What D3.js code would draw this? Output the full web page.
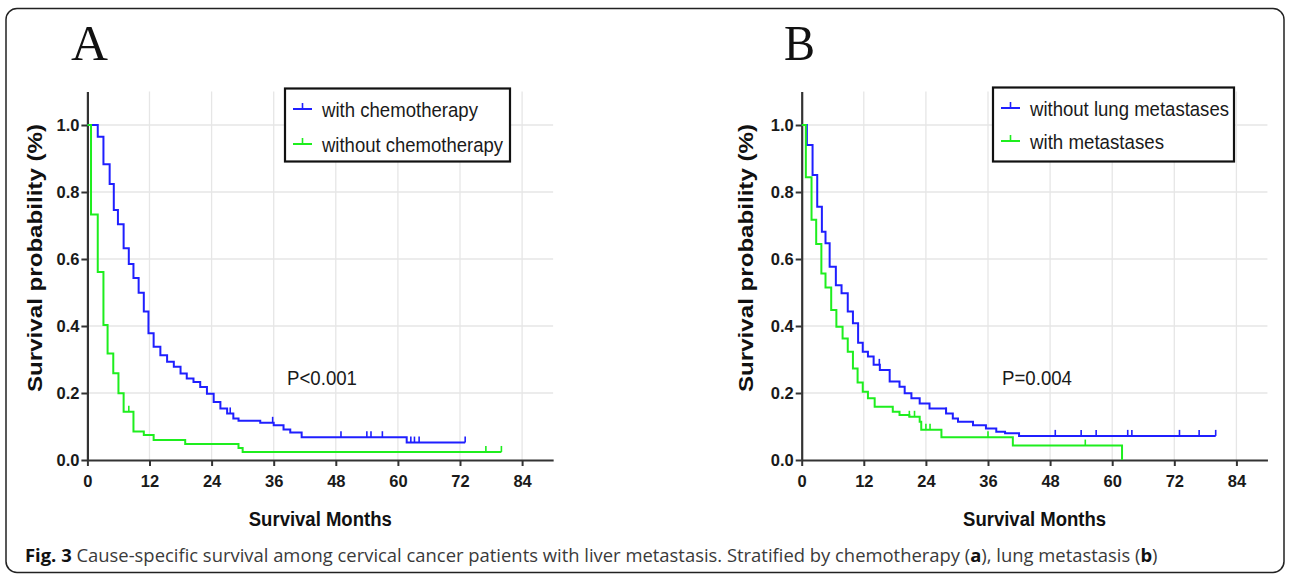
<!DOCTYPE html>
<html>
<head>
<meta charset="utf-8">
<script src="https://cdn.jsdelivr.net/npm/d3@7"></script>
<style>
    body { margin: 0; background: #fff; }
    text { font-family: "Liberation Sans", Arial, sans-serif; }
</style>
</head>
<body>
<div class="canvas"></div>
<script>
// axis ticks
const monthTicks = [0, 12, 24, 36, 48, 60, 72, 84];
const survTicks = [0, 0.2, 0.4, 0.6, 0.8, 1.0];

// panel A - chemotherapy
const aChemoTime = [0, 2.0, 3.1, 4.3, 5.1, 5.9, 7.0, 8.0, 8.9, 9.9, 10.9, 11.8, 12.8, 14.1, 15.4, 16.7, 18.0, 19.2, 20.5, 21.8, 23.1, 24.4, 25.7, 27.0, 28.2, 29.2, 33.4, 36.0, 37.9, 39.2, 41.4, 61.7];
const aChemoSurv = [1.0, 0.965, 0.883, 0.824, 0.746, 0.704, 0.632, 0.585, 0.543, 0.499, 0.443, 0.378, 0.338, 0.313, 0.293, 0.278, 0.258, 0.243, 0.233, 0.218, 0.198, 0.173, 0.154, 0.139, 0.124, 0.117, 0.111, 0.104, 0.091, 0.082, 0.068, 0.052];
const aChemoEnd = 73;
const aChemoCensor = [27.6, 35.8, 49, 54, 54.8, 57, 62.5, 63.2, 64.1, 73];

const aNoChemoTime = [0, 0.7, 2.0, 3.1, 3.9, 5.0, 6.0, 7.0, 8.9, 10.9, 12.8, 18.9, 29.2, 30.0];
const aNoChemoSurv = [1.0, 0.733, 0.561, 0.403, 0.318, 0.259, 0.199, 0.144, 0.085, 0.075, 0.060, 0.048, 0.036, 0.024];
const aNoChemoEnd = 80;
const aNoChemoCensor = [8.0, 77, 80];

// panel B - lung metastases
const bNoLungTime = [0, 1.0, 2.1, 3.0, 3.9, 4.6, 5.4, 6.6, 7.7, 8.9, 9.9, 10.9, 11.8, 12.8, 13.9, 15.1, 17.0, 18.9, 19.9, 21.2, 22.8, 24.7, 27.9, 29.2, 30.2, 33.1, 35.6, 37.6, 39.3, 42.0];
const bNoLungSurv = [1.0, 0.94, 0.851, 0.756, 0.681, 0.647, 0.577, 0.522, 0.498, 0.443, 0.408, 0.350, 0.323, 0.309, 0.284, 0.269, 0.234, 0.219, 0.199, 0.184, 0.169, 0.154, 0.139, 0.124, 0.114, 0.104, 0.094, 0.084, 0.080, 0.072];
const bNoLungEnd = 80;
const bNoLungCensor = [15.0, 27.9, 49, 54, 56.9, 63, 63.8, 73, 76.8, 80];

const bLungTime = [0, 0.8, 1.9, 2.8, 3.8, 4.6, 5.7, 6.7, 7.9, 8.9, 9.9, 10.8, 11.8, 12.8, 14.1, 17.6, 18.9, 20.8, 22.8, 23.1, 27.0, 40.8, 61.9];
const bLungSurv = [1.0, 0.844, 0.717, 0.645, 0.557, 0.515, 0.448, 0.398, 0.363, 0.323, 0.273, 0.231, 0.204, 0.184, 0.159, 0.144, 0.134, 0.129, 0.114, 0.090, 0.068, 0.043, 0.0];
const bLungEnd = 61.9;
const bLungCensor = [20.8, 21.8, 24.0, 24.8, 36.0, 54.8];

const aLegend = ['with chemotherapy', 'without chemotherapy'];
const bLegend = ['without lung metastases', 'with metastases'];

const blue = '#1f1fff';
const green = '#1eee1e';

const svg = d3.select('.canvas')
    .append('svg')
        .attr('width', 1290)
        .attr('height', 576);

// outer frame
svg.append('rect')
    .attr('x', 6).attr('y', 8.5)
    .attr('width', 1278).attr('height', 564)
    .attr('rx', 11)
    .attr('fill', 'none')
    .attr('stroke', '#222')
    .attr('stroke-width', 1.5);

const fit = (sel, w) => sel.attr('textLength', w).attr('lengthAdjust', 'spacingAndGlyphs');

const makeSeries = (times, survs, end, color) => {
    const pts = times.map((t, i) => [t, survs[i]]);
    if (end > times[times.length - 1]) pts.push([end, survs[survs.length - 1]]);
    const survAt = t => {
        let s = survs[0];
        times.forEach((tt, i) => { if (tt <= t) s = survs[i]; });
        return s;
    };
    return {pts, survAt, color};
};

const drawPanel = (p) => {
    const x = d3.scaleLinear().domain([0, 90]).range([p.x0, p.x0 + 90 * 5.175]);
    const y = d3.scaleLinear().domain([0, 1.1]).range([460, 91.5]);
    const g = svg.append('g');

    // grid
    g.selectAll('.vgrid')
        .data(monthTicks.slice(1))
        .enter().append('line')
            .attr('x1', d => x(d)).attr('x2', d => x(d))
            .attr('y1', y(1.1)).attr('y2', y(0))
            .attr('stroke', '#e6e6e6').attr('stroke-width', 1.3);
    g.selectAll('.hgrid')
        .data(survTicks.slice(1))
        .enter().append('line')
            .attr('x1', x(0)).attr('x2', x(90))
            .attr('y1', d => y(d)).attr('y2', d => y(d))
            .attr('stroke', '#e6e6e6').attr('stroke-width', 1.3);

    // axes
    const xAxis = d3.axisBottom(x).tickValues(monthTicks).tickSize(6).tickSizeOuter(0).tickPadding(9);
    const yAxis = d3.axisLeft(y).tickValues(survTicks).tickSize(6).tickSizeOuter(0).tickPadding(2)
        .tickFormat(d3.format('.1f'));

    const gx = g.append('g').attr('transform', 'translate(0,460)').call(xAxis);
    const gy = g.append('g').attr('transform', `translate(${p.x0},0)`).call(yAxis);
    [gx, gy].forEach(a => {
        a.select('.domain').attr('stroke', '#333').attr('stroke-width', 2.2);
        a.selectAll('.tick line').attr('stroke', '#333').attr('stroke-width', 2);
        a.selectAll('.tick text')
            .attr('fill', '#1a1a1a')
            .style('font-size', '16.5px')
            .style('font-weight', 'bold')
            .style('font-family', '"Liberation Sans", Arial, sans-serif');
    });

    // curves
    const line = d3.line()
        .x(d => x(d[0]))
        .y(d => y(d[1]))
        .curve(d3.curveStepAfter);

    p.series.forEach(s => {
        g.append('path')
            .attr('d', line(s.pts))
            .attr('fill', 'none')
            .attr('stroke', s.color)
            .attr('stroke-width', 2);
        g.selectAll(null)
            .data(s.censor)
            .enter().append('line')
                .attr('x1', d => x(d)).attr('x2', d => x(d))
                .attr('y1', d => y(s.survAt(d)))
                .attr('y2', d => y(s.survAt(d)) - 6)
                .attr('stroke', s.color)
                .attr('stroke-width', 1.6);
    });

    // legend
    const lg = g.append('g');
    lg.append('rect')
        .attr('x', p.leg.x).attr('y', p.leg.y)
        .attr('width', p.leg.w).attr('height', p.leg.h)
        .attr('fill', '#fff')
        .attr('stroke', '#111')
        .attr('stroke-width', 2.2);
    p.legend.forEach((name, i) => {
        const ly = p.leg.rows[i];
        const col = p.series[i].color;
        lg.append('line')
            .attr('x1', p.leg.x + 8).attr('x2', p.leg.x + 27)
            .attr('y1', ly).attr('y2', ly)
            .attr('stroke', col).attr('stroke-width', 2);
        lg.append('line')
            .attr('x1', p.leg.x + 17.5).attr('x2', p.leg.x + 17.5)
            .attr('y1', ly).attr('y2', ly - 6)
            .attr('stroke', col).attr('stroke-width', 1.6);
        lg.append('text')
            .attr('x', p.leg.x + 37)
            .attr('y', ly + 8)
            .attr('fill', '#1a1a1a')
            .style('font-size', '20.5px')
            .text(name)
            .call(fit, p.leg.tw[i]);
    });

    // p value
    g.append('text')
        .attr('x', p.pval.x).attr('y', 385)
        .attr('fill', '#1a1a1a')
        .style('font-size', '20.5px')
        .text(p.pval.t)
        .call(fit, 70);

    // axis titles
    g.append('text')
        .attr('x', (x(0) + x(90)) / 2).attr('y', 526)
        .attr('text-anchor', 'middle')
        .attr('fill', '#111')
        .style('font-size', '20px').style('font-weight', 'bold')
        .text('Survival Months')
        .call(fit, 143);
    g.append('text')
        .attr('transform', `translate(${p.ylab},258) rotate(-90)`)
        .attr('text-anchor', 'middle')
        .attr('fill', '#111')
        .style('font-size', '20px').style('font-weight', 'bold')
        .text('Survival probability (%)')
        .call(fit, 268);

    // panel letter
    g.append('text')
        .attr('x', p.letter.x).attr('y', 60)
        .attr('fill', '#111')
        .style('font-family', '"Liberation Serif", "Times New Roman", serif')
        .style('font-size', '50px')
        .text(p.letter.t)
        .call(fit, p.letter.w);
};

const panelA = {
    x0: 87.4,
    series: [
        Object.assign(makeSeries(aChemoTime, aChemoSurv, aChemoEnd, blue), {censor: aChemoCensor}),
        Object.assign(makeSeries(aNoChemoTime, aNoChemoSurv, aNoChemoEnd, green), {censor: aNoChemoCensor})
    ],
    legend: aLegend,
    leg: {x: 285, y: 88.5, w: 225, h: 73, rows: [109, 144], tw: [156, 181]},
    pval: {x: 287, t: 'P<0.001'},
    ylab: 42,
    letter: {x: 71, t: 'A', w: 37}
};

const panelB = {
    x0: 801.7,
    series: [
        Object.assign(makeSeries(bNoLungTime, bNoLungSurv, bNoLungEnd, blue), {censor: bNoLungCensor}),
        Object.assign(makeSeries(bLungTime, bLungSurv, bLungEnd, green), {censor: bLungCensor})
    ],
    legend: bLegend,
    leg: {x: 993, y: 87.5, w: 241, h: 74, rows: [108, 141], tw: [199, 134]},
    pval: {x: 1002, t: 'P=0.004'},
    ylab: 753,
    letter: {x: 784, t: 'B', w: 31}
};

drawPanel(panelA);
drawPanel(panelB);

// caption, sized so it spans the same width as in the figure
const cap = svg.append('text')
    .attr('x', 25).attr('y', 562)
    .attr('fill', '#3a3a3a')
    .style('font-family', '"Open Sans", "Noto Sans", sans-serif')
    .style('font-size', '18px');
cap.append('tspan').style('font-weight', 'bold').attr('fill', '#111').text('Fig. 3');
cap.append('tspan').text(' Cause-specific survival among cervical cancer patients with liver metastasis. Stratified by chemotherapy (');
cap.append('tspan').style('font-weight', 'bold').attr('fill', '#111').text('a');
cap.append('tspan').text('), lung metastasis (');
cap.append('tspan').style('font-weight', 'bold').attr('fill', '#111').text('b');
cap.append('tspan').text(')');
const capLen = cap.node().getComputedTextLength();
cap.style('font-size', (18 * 1133 / capLen) + 'px');
</script>
</body>
</html>
